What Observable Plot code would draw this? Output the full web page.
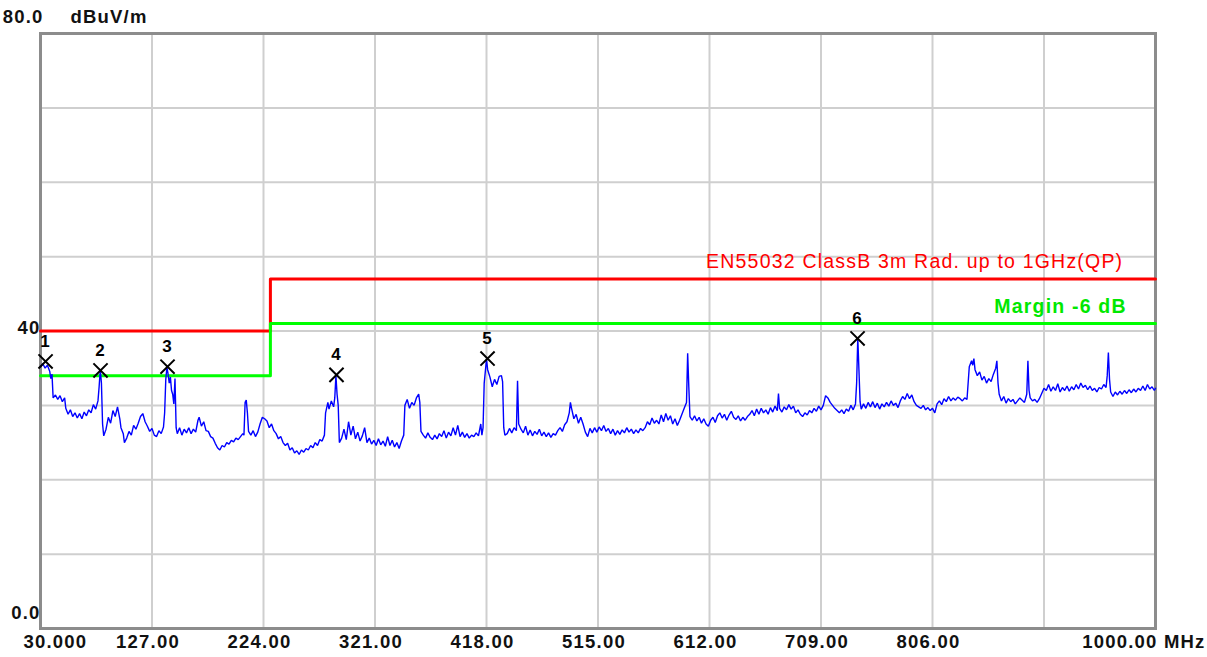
<!DOCTYPE html>
<html>
<head>
<meta charset="utf-8">
<script src="https://cdn.jsdelivr.net/npm/d3@7"></script>
<script src="https://cdn.jsdelivr.net/npm/@observablehq/plot@0.6"></script>
<style>
  html, body { margin: 0; padding: 0; background: #fff; }
  #chart svg { display: block; }
  #chart svg text { letter-spacing: 1.2px; }
</style>
</head>
<body>
<div id="chart"></div>
<script>
// ---- Data ----
const xTickValues = [30, 127, 224, 321, 418, 515, 612, 709, 806, 1000];
const xTickLabels = ["30.000", "127.00", "224.00", "321.00", "418.00", "515.00", "612.00", "709.00", "806.00", "1000.00 MHz"];
const xGridValues = [127, 224, 321, 418, 515, 612, 709, 806, 903];
const yGridValues = [10, 20, 30, 40, 50, 60, 70];
const yTickValues = [80, 40, 0];
const yTickLabels = ["80.0", "40", "0.0"];
const unitLabel = "dBuV/m";

// Limit line (EN55032 Class B 3 m, QP) and margin line, MHz / dBuV/m
const limitFreq = [30, 230, 230, 1000];
const limitLevel = [40, 40, 47, 47];
const marginLevel = [34, 34, 41, 41];
const limitLabel = "EN55032 ClassB 3m Rad. up to 1GHz(QP)";
const marginLabel = "Margin -6 dB";

// Markers
const markerNo = ["1", "2", "3", "4", "5", "6"];
const markerFreq = [34.4, 82.2, 140.5, 287.5, 418.9, 740.8];
const markerLevel = [35.9, 34.7, 35.2, 34.1, 36.3, 39.0];

// Measured trace [MHz, dBuV/m]
const trace = [
[30,35.2],[32,35.6],[34,35.0],[36,35.4],[38,34.6],[39,33.6],[40,34.2],[41,31.0],[43,31.4],[45,30.8],
[47,31.3],[49,30.5],[51,31.0],[52,29.6],[54,28.8],[56,29.4],[58,28.5],[60,29.0],[62,28.3],[64,28.9],
[66,28.2],[68,29.1],[70,28.6],[72,29.4],[74,29.0],[76,30.1],[78,29.5],[80,30.6],[81,32.5],[82,34.8],
[83,33.0],[84,27.5],[85,25.9],[87,26.8],[89,28.4],[91,27.6],[93,29.3],[95,28.5],[97,29.8],[99,28.2],
[100,27.0],[102,26.2],[103,25.0],[105,25.6],[107,26.5],[109,26.0],[111,27.3],[113,26.8],[115,27.6],[117,28.5],
[119,28.9],[121,27.8],[123,27.2],[125,26.5],[127,26.9],[129,26.0],[131,25.8],[133,26.6],[135,26.2],[137,27.1],
[138,29.0],[139,33.5],[140,35.1],[141,34.2],[142,33.0],[143,33.8],[144,32.0],[145,31.5],[146,30.2],[147,33.6],
[148,27.0],[149,26.2],[151,27.0],[153,26.0],[155,26.8],[157,26.3],[159,27.0],[161,26.2],[163,26.8],[165,26.4],
[167,28.0],[168,28.4],[170,27.2],[172,27.8],[174,26.6],[176,26.5],[178,25.8],[180,25.6],[182,24.9],[184,24.3],
[186,24.0],[188,24.6],[190,24.4],[192,25.0],[194,24.8],[196,25.3],[198,25.1],[200,25.6],[202,25.4],[204,25.8],
[206,26.2],[207,26.0],[208,30.4],[209,30.7],[210,29.0],[211,26.5],[213,26.0],[215,26.6],[217,25.8],[219,26.4],
[221,27.5],[223,28.4],[225,28.2],[227,27.9],[229,27.0],[231,27.5],[233,26.6],[235,26.2],[237,25.5],[239,25.8],
[241,25.0],[243,24.6],[245,24.9],[247,24.0],[249,24.3],[251,23.6],[253,23.9],[255,23.4],[257,24.0],[259,23.7],
[261,24.2],[263,24.0],[265,24.6],[267,24.3],[269,25.0],[271,24.6],[273,25.4],[275,25.2],[277,26.0],[278,29.0],
[280,30.4],[281,29.5],[283,30.6],[285,29.8],[286,31.0],[287,34.0],[288,31.5],[289,30.0],[290,25.0],[292,25.6],
[294,26.8],[296,25.4],[298,27.8],[300,26.0],[302,27.2],[304,25.5],[306,26.4],[308,25.2],[310,25.9],[312,27.0],
[314,25.0],[316,25.6],[318,24.8],[320,25.3],[322,24.6],[324,25.5],[326,24.7],[328,25.2],[330,24.5],[332,25.8],
[334,24.6],[336,25.3],[338,24.4],[340,25.0],[342,24.2],[344,25.2],[346,26.0],[347,30.0],[349,30.8],[351,29.6],
[353,30.4],[355,30.0],[357,31.0],[359,31.5],[360,30.4],[361,26.5],[363,26.0],[365,25.6],[367,26.3],[369,25.7],
[371,25.4],[373,26.0],[375,25.5],[377,26.2],[379,25.8],[381,26.6],[383,25.6],[385,26.4],[387,25.9],[389,27.0],
[391,26.0],[393,27.3],[395,25.8],[397,26.4],[399,25.7],[401,26.2],[403,25.6],[405,26.0],[407,25.8],[409,26.3],
[411,25.9],[413,27.5],[414,26.0],[415,27.0],[416,33.0],[418,36.2],[419,34.8],[421,33.8],[423,32.5],[425,33.5],
[427,32.8],[429,33.9],[431,34.0],[432,33.2],[433,27.0],[434,26.0],[436,26.2],[438,26.9],[440,26.3],[442,27.0],
[444,26.6],[445,33.3],[446,27.5],[448,26.8],[450,26.3],[452,27.2],[454,26.0],[456,26.7],[458,25.9],[460,26.5],
[462,26.1],[464,26.8],[466,25.9],[468,26.4],[470,25.8],[472,26.3],[474,25.7],[476,26.2],[478,26.0],[480,26.6],
[482,27.0],[484,26.5],[486,27.4],[488,27.8],[490,29.0],[491,30.4],[492,29.6],[494,28.2],[496,28.8],[498,27.6],
[500,28.4],[502,27.5],[504,26.4],[506,25.8],[508,26.9],[510,26.3],[512,27.0],[514,26.4],[516,27.1],[518,26.6],
[520,27.3],[522,26.5],[524,26.9],[526,26.2],[528,26.8],[530,26.0],[532,26.6],[534,26.1],[536,26.7],[538,26.3],
[540,27.0],[542,26.4],[544,26.8],[546,26.2],[548,26.7],[550,26.3],[552,26.9],[554,26.6],[556,27.0],[558,27.8],
[560,27.4],[562,28.3],[564,27.6],[566,28.0],[568,27.5],[570,28.7],[572,27.8],[574,28.9],[576,28.0],[578,28.6],
[580,27.5],[582,28.2],[584,27.3],[586,28.0],[588,28.8],[590,29.6],[592,30.4],[593,37.0],[594,32.5],[595,28.5],
[597,28.0],[599,28.6],[601,27.9],[603,28.4],[605,27.6],[607,28.2],[609,27.5],[611,27.2],[613,28.0],[615,28.4],
[617,27.7],[619,28.6],[621,29.0],[623,28.3],[625,28.8],[627,28.0],[629,28.7],[631,29.2],[633,28.4],[635,28.1],
[637,28.6],[639,27.9],[641,28.4],[643,28.0],[645,28.5],[647,28.8],[649,29.3],[651,28.6],[653,29.5],[655,28.8],
[657,29.6],[659,29.0],[661,29.4],[663,28.8],[665,29.7],[667,29.1],[669,29.9],[671,29.3],[672,31.6],[673,29.6],
[675,29.1],[677,29.8],[679,29.4],[681,30.1],[683,29.5],[685,29.9],[687,29.0],[689,29.4],[691,28.8],[693,28.5],
[695,29.0],[697,28.7],[699,29.3],[701,29.0],[703,29.6],[705,29.2],[707,29.9],[709,29.4],[711,30.0],[713,31.3],
[715,31.0],[717,30.4],[719,30.0],[721,29.6],[723,29.3],[725,29.0],[727,29.4],[729,28.9],[731,29.5],[733,29.2],
[735,30.0],[737,29.4],[739,30.2],[740,33.0],[741,39.1],[742,34.8],[743,30.5],[744,29.5],[746,30.2],[748,29.6],
[750,30.4],[752,29.8],[754,30.5],[756,29.7],[758,30.3],[760,29.5],[762,30.2],[764,29.8],[766,30.4],[768,29.9],
[770,30.6],[772,30.0],[774,30.3],[776,29.7],[778,30.6],[780,31.2],[782,30.8],[784,31.6],[786,30.9],[788,31.4],
[790,30.5],[792,30.0],[794,29.8],[796,29.6],[798,30.0],[800,29.4],[802,29.7],[804,29.3],[806,29.6],[808,29.0],
[810,30.2],[812,30.6],[814,30.1],[816,30.9],[818,30.5],[820,31.2],[822,30.6],[824,31.0],[826,30.7],[828,31.1],
[830,30.9],[832,30.6],[834,31.0],[836,30.8],[838,35.2],[840,36.0],[841,35.4],[842,36.3],[843,34.8],[845,34.0],
[847,34.5],[849,33.4],[851,33.9],[853,33.0],[855,33.6],[857,33.2],[859,34.2],[861,35.0],[862,36.0],[863,33.0],
[864,31.5],[866,30.6],[868,31.2],[870,30.3],[872,30.9],[874,30.5],[876,30.8],[878,30.2],[880,30.6],[882,31.0],
[884,30.7],[886,30.4],[888,31.5],[889,36.0],[890,32.0],[891,31.0],[893,30.6],[895,30.8],[897,30.4],[899,30.9],
[901,31.6],[903,32.3],[905,32.0],[907,32.8],[909,31.9],[911,32.5],[913,32.0],[915,32.9],[917,31.8],[919,32.4],
[921,32.0],[923,32.6],[925,31.9],[927,32.5],[929,32.1],[931,32.8],[933,32.2],[935,33.0],[937,32.4],[939,32.7],
[941,32.1],[943,32.6],[945,32.0],[947,32.3],[949,31.8],[951,32.4],[953,32.2],[955,32.8],[957,32.4],[958,34.0],
[959,37.1],[960,33.5],[961,31.8],[963,31.2],[965,31.8],[967,31.4],[969,31.9],[971,31.5],[973,32.0],[975,31.6],
[977,32.1],[979,31.7],[981,32.2],[983,31.8],[985,32.3],[987,32.0],[989,32.6],[991,32.0],[993,32.8],[995,32.2],
[997,32.5],[999,32.0],[1000,32.3]
];

// ---- Derived tables for Plot ----
const limitData = limitFreq.map((f, i) => ({f, limit: limitLevel[i], margin: marginLevel[i]}));
const markers = markerNo.map((n, i) => ({n, f: markerFreq[i], v: markerLevel[i]}));
const traceData = trace.map(([f, v]) => ({f, v}));
const xTicks = xTickValues.map((v, i) => ({v, label: xTickLabels[i]}));
const yTicks = yTickValues.map((v, i) => ({v, label: yTickLabels[i]}));

const FONT = "'Liberation Sans', Arial, sans-serif";
const tickStyle = {fontSize: 18.5, fontWeight: "bold", fill: "#111", fontFamily: FONT};

const midX = xTicks.slice(1, -1);
const firstX = [xTicks[0]];
const lastX = [xTicks[xTicks.length - 1]];

const chart = Plot.plot({
  width: 1207,
  height: 657,
  marginLeft: 40,
  marginRight: 52,
  marginTop: 33,
  marginBottom: 29,
  style: {background: "#fff", fontFamily: FONT},
  x: {domain: [30, 1000], axis: null},
  y: {domain: [0, 80], axis: null},
  marks: [
    Plot.ruleX(xGridValues, {stroke: "#cfcfcf", strokeWidth: 2}),
    Plot.ruleY(yGridValues, {stroke: "#cfcfcf", strokeWidth: 2}),
    Plot.frame({stroke: "#8c8c8c", strokeWidth: 3}),
    Plot.line(limitData, {x: "f", y: "limit", stroke: "#ff0000", strokeWidth: 3}),
    Plot.line(limitData, {x: "f", y: "margin", stroke: "#00ff00", strokeWidth: 3}),
    Plot.line(traceData, {x: "f", y: "v", stroke: "#0000ff", strokeWidth: 1.4, strokeLinejoin: "miter"}),
    Plot.dot(markers, {x: "f", y: "v", symbol: "times", r: 6.5, stroke: "#000", strokeWidth: 2}),
    Plot.text(markers, {x: "f", y: "v", text: "n", dy: -20, fontSize: 17, fontWeight: "bold", fill: "#000", fontFamily: FONT}),
    Plot.text([limitLabel], {x: 972, y: 49.3, text: d => d, textAnchor: "end", fill: "#ff0000", fontSize: 19.5, fontFamily: FONT}),
    Plot.text([marginLabel], {x: 975, y: 43.3, text: d => d, textAnchor: "end", fill: "#00e800", fontSize: 19.5, fontWeight: "bold", fontFamily: FONT}),
    // X tick labels
    Plot.text(midX, {x: "v", frameAnchor: "bottom", text: "label", dy: 14, dx: -4, lineAnchor: "middle", ...tickStyle}),
    Plot.text(firstX, {x: "v", frameAnchor: "bottom", text: "label", dy: 14, dx: -17, textAnchor: "start", lineAnchor: "middle", ...tickStyle}),
    Plot.text(lastX, {x: "v", frameAnchor: "bottom", text: "label", dy: 14, dx: 50, textAnchor: "end", lineAnchor: "middle", ...tickStyle}),
    // Y tick labels
    Plot.text([yTicks[0]], {y: "v", frameAnchor: "left", text: "label", dx: 3, dy: -16, textAnchor: "end", lineAnchor: "middle", ...tickStyle}),
    Plot.text([yTicks[1]], {y: "v", frameAnchor: "left", text: "label", dx: 0, dy: -3, textAnchor: "end", lineAnchor: "middle", ...tickStyle}),
    Plot.text([yTicks[2]], {y: "v", frameAnchor: "left", text: "label", dx: 0, dy: -15, textAnchor: "end", lineAnchor: "middle", ...tickStyle}),
    Plot.text([unitLabel], {y: 80, frameAnchor: "left", text: d => d, dx: 30, dy: -16, textAnchor: "start", lineAnchor: "middle", ...tickStyle})
  ]
});
document.getElementById("chart").appendChild(chart);
</script>
</body>
</html>
